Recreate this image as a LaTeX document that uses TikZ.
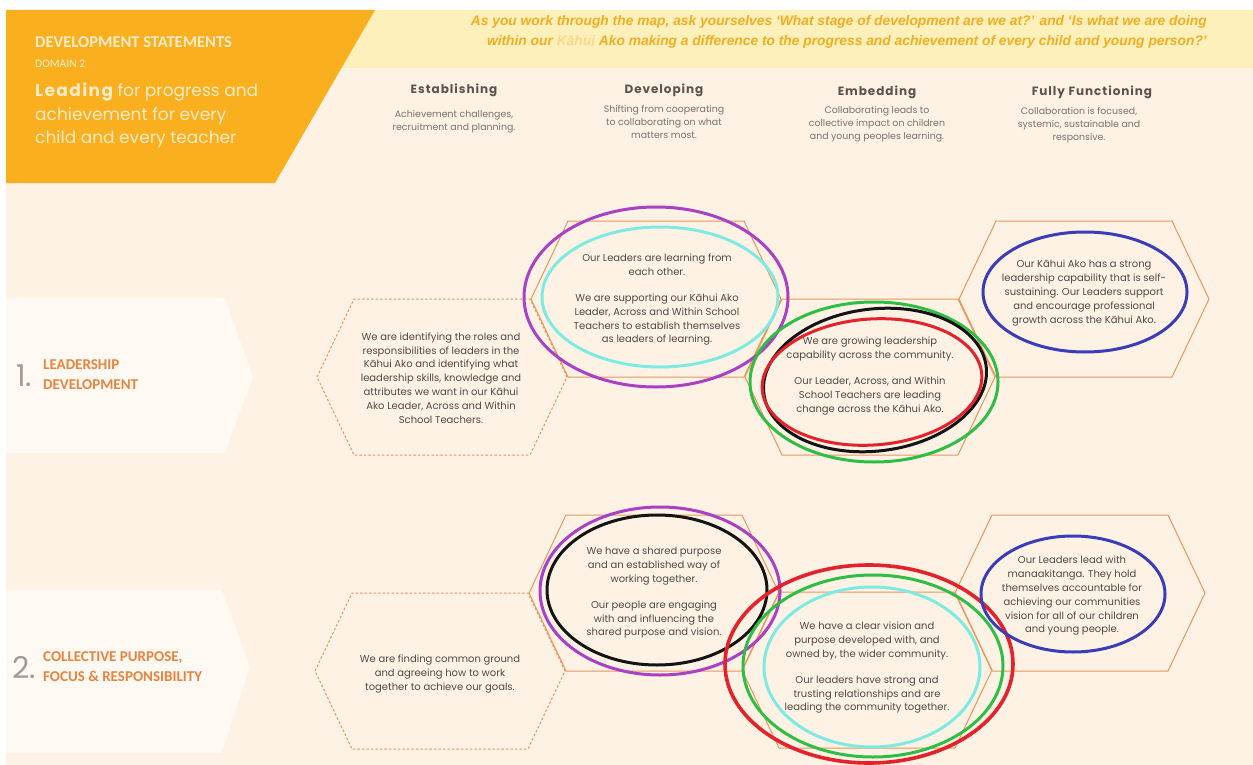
\documentclass[tikz,border=0pt]{standalone}
\usepackage{fontspec}
\setmainfont{Poppins}
\newfontfamily\calibfont{Carlito}
\newfontfamily\bandfont{Liberation Sans}
\usetikzlibrary{positioning}

\definecolor{banner}{HTML}{F9AF1E}
\definecolor{band}{HTML}{FEF0BA}
\definecolor{bandtext}{HTML}{F2AE22}
\definecolor{bandpale}{HTML}{F8D88C}
\definecolor{domaintext}{HTML}{FEEFD2}
\definecolor{paper}{HTML}{FDF2E4}
\definecolor{tab}{HTML}{FEF9F3}
\definecolor{hexline}{HTML}{E9955C}
\definecolor{bodytext}{HTML}{4F4A47}
\definecolor{headtext}{HTML}{5C524E}
\definecolor{subtext}{HTML}{7A726C}
\definecolor{rowlabel}{HTML}{E8843E}
\definecolor{rownumber}{HTML}{A39A93}
\definecolor{creamtext}{HTML}{FEEBC8}
\definecolor{ringpurple}{HTML}{A841C4}
\definecolor{ringcyan}{HTML}{7EEBE3}
\definecolor{ringred}{HTML}{E3222B}
\definecolor{ringgreen}{HTML}{2FBE45}
\definecolor{ringblue}{HTML}{3B3DB8}
\definecolor{ringblack}{HTML}{141414}

\tikzset{
  hexcell/.pic={
    \draw[pic actions] (-125,0) -- (-88,-78) -- (88,-78) -- (125,0)
      -- (88,78) -- (-88,78) -- cycle;
  },
  hexsolid/.style={draw=hexline, line width=1pt},
  hexdash/.style={draw=hexline, line width=1pt, dash pattern=on 2.5pt off 2pt},
  celltext/.style={font=\fontsize{10}{13.8}\selectfont, text=bodytext,
    align=center, inner sep=0pt},
  colhead/.style={font=\fontsize{12}{14}\selectfont\bfseries\addfontfeatures{LetterSpace=8},
    text=headtext, inner sep=0pt},
  colsub/.style={font=\fontsize{9.4}{13}\selectfont, text=subtext,
    align=center, inner sep=0pt},
  rowname/.style={font=\calibfont\fontsize{15}{20}\selectfont\bfseries,
    text=rowlabel, align=left, inner sep=0pt, anchor=west},
  rownum/.style={font=\fontsize{30}{30}\selectfont, text=rownumber, inner sep=0pt},
  ring/.style={draw=#1, line width=3pt},
}

\begin{document}
\begin{tikzpicture}[x=1pt,y=-1pt]
\useasboundingbox (0,0) rectangle (1253,765);
% page, header bands and row tabs
\fill[white] (0,0) rectangle (1253,765);
\fill[paper] (6,10) rectangle (1253,765);
\fill[band] (300,10) rectangle (1253,68);
\fill[banner] (6,10) -- (375,10) -- (275,183) -- (6,183) -- cycle;
\fill[tab] (6,298) -- (225,298) -- (253,377) -- (225,453) -- (6,453) -- cycle;
\fill[tab] (6,590) -- (222,590) -- (250,667) -- (222,753) -- (6,753) -- cycle;

% banner text
\node[font=\calibfont\fontsize{16.5}{18}\selectfont\bfseries, text=creamtext,
  anchor=base west, inner sep=0pt] (title) at (35,48) {DEVELOPMENT STATEMENTS};
\node[font=\calibfont\fontsize{11.5}{12}\selectfont, text=domaintext,
  anchor=base west, inner sep=0pt] (domain) at (35,68) {DOMAIN 2};
\node[font=\fontsize{17}{23.5}\selectfont, text=creamtext, align=left,
  anchor=north west, inner sep=0pt] (leading) at (35,83)
  {{\bfseries\addfontfeatures{LetterSpace=8}Leading} for progress and\\
   achievement for every\\child and every teacher};
\node[font=\bandfont\fontsize{13.8}{20}\selectfont\bfseries\itshape, text=bandtext,
  align=right, anchor=east, inner sep=0pt] (prompt) at (1207,32)
  {As you work through the map, ask yourselves ‘What stage of development are we at?’ and ‘Is what we are doing\\
   within our {\color{bandpale}Kāhui} Ako making a difference to the progress and achievement of every child and young person?’};

% column headings
\node[colhead] (est-head) at (454,90) {Establishing};
\node[colhead] (dev-head) at (664,90) {Developing};
\node[colhead] (emb-head) at (877,92) {Embedding};
\node[colhead] (ff-head) at (1092,92) {Fully Functioning};
\node[colsub, below=13pt of est-head] (est-sub) {Achievement challenges,\\recruitment and planning.};
\node[colsub, below=8pt of dev-head] (dev-sub) {Shifting from cooperating\\to collaborating on what\\matters most.};
\node[colsub, below=7pt of emb-head] (emb-sub) {Collaborating leads to\\collective impact on children\\and young peoples learning.};
\node[colsub, below=8pt of ff-head, xshift=-13pt] (ff-sub) {Collaboration is focused,\\systemic, sustainable and\\responsive.};

% row labels
\node[rownum] (num1) at (24,376) {1.};
\node[rowname] (row1) at (43,375) {LEADERSHIP\\DEVELOPMENT};
\node[rownum] (num2) at (24,668) {2.};
\node[rowname] (row2) at (43,667) {COLLECTIVE PURPOSE,\\FOCUS \& RESPONSIBILITY};

% honeycomb cells
\path pic[hexdash] at (442,377) {hexcell}
      pic[hexsolid] at (656,299) {hexcell}
      pic[hexsolid] at (870,377) {hexcell}
      pic[hexsolid] at (1084,299) {hexcell}
      pic[hexdash] at (440,671) {hexcell}
      pic[hexsolid] at (654,593) {hexcell}
      pic[hexsolid] at (867,670) {hexcell}
      pic[hexsolid] at (1080,593) {hexcell};

\node[celltext] (est1) at (441,378) {We are identifying the roles and\\responsibilities of leaders in the\\Kāhui Ako and identifying what\\leadership skills, knowledge and\\attributes we want in our Kāhui\\Ako Leader, Across and Within\\School Teachers.};
\node[celltext] (dev1) at (657,300) {Our Leaders are learning from\\each other.\\[12pt]We are supporting our Kāhui Ako\\Leader, Across and Within School\\Teachers to establish themselves\\as leaders of learning.};
\node[celltext] (emb1) at (870,376) {We are growing leadership\\capability across the community.\\[12pt]Our Leader, Across, and Within\\School Teachers are leading\\change across the Kāhui Ako.};
\node[celltext] (ff1) at (1084,293) {Our Kāhui Ako has a strong\\leadership capability that is self-\\sustaining. Our Leaders support\\and encourage professional\\growth across the Kāhui Ako.};
\node[celltext] (est2) at (440,674) {We are finding common ground\\and agreeing how to work\\together to achieve our goals.};
\node[celltext] (dev2) at (654,593) {We have a shared purpose\\and an established way of\\working together.\\[12pt]Our people are engaging\\with and influencing the\\shared purpose and vision.};
\node[celltext] (emb2) at (867,668) {We have a clear vision and\\purpose developed with, and\\owned by, the wider community.\\[12pt]Our leaders have strong and\\trusting relationships and are\\leading the community together.};
\node[celltext] (ff2) at (1072,596) {Our Leaders lead with\\manaakitanga. They hold\\themselves accountable for\\achieving our communities\\vision for all of our children\\and young people.};

% hand drawn rings
\draw[ring=ringpurple] (656,297) ellipse [x radius=132pt, y radius=90pt];
\draw[ring=ringcyan] (660,297) ellipse [x radius=118pt, y radius=70pt];
\draw[ring=ringgreen] (874,382) ellipse [x radius=124pt, y radius=80pt];
\draw[ring=ringblack, rotate around={7:(875,380)}] (875,380) ellipse [x radius=112pt, y radius=71pt];
\draw[ring=ringred, rotate around={4:(872,382)}] (872,382) ellipse [x radius=110pt, y radius=63pt];
\draw[ring=ringblue] (1085,292) ellipse [x radius=102pt, y radius=60pt];
\draw[ring=ringpurple] (660,591) ellipse [x radius=120pt, y radius=84pt];
\draw[ring=ringblack] (657,590) ellipse [x radius=110pt, y radius=75pt];
\draw[ring=ringred, line width=3.6pt] (869,664) ellipse [x radius=144pt, y radius=99pt];
\draw[ring=ringgreen] (873,666) ellipse [x radius=130pt, y radius=91pt];
\draw[ring=ringcyan] (872,667) ellipse [x radius=108pt, y radius=80pt];
\draw[ring=ringblue] (1073,594) ellipse [x radius=92pt, y radius=58pt];
\end{tikzpicture}
\end{document}
